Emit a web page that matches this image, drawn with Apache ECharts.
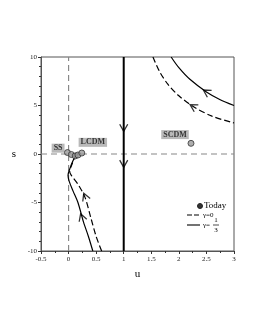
<!DOCTYPE html>
<html><head><meta charset="utf-8">
<script src="https://cdn.jsdelivr.net/npm/echarts@6/dist/echarts.min.js"></script>
<style>html,body{margin:0;padding:0;background:#fff}#c{width:255px;height:330px}</style>
</head><body><div id="c"></div>
<script>
// axes / ticks
const xTicks = [-0.5, 3, 0.5];
const yTicks = [-10, 10, 5];
// reference lines
const vLine0 = [[0, -10], [0, 10]];
const hLine0 = [[-0.5, 0], [3, 0]];
const vLine1 = [[1, -10], [1, 10]];
// trajectories (gamma = 1/3 solid, gamma = 0 dashed)
const solidUpper = [[1.86,10],[2.0,8.9],[2.2,7.7],[2.5,6.4],[2.75,5.6],[3,5.0]];
const dashedUpper = [[1.53,10],[1.65,8.5],[1.8,7.2],[2.0,6.0],[2.26,4.9],[2.6,3.9],[3,3.2]];
const solidLower = [[0.44,-10],[0.36,-8.5],[0.27,-7],[0.17,-5],[0.08,-3.8],[0.01,-2.8],[-0.01,-2.2],[0.03,-1.4],[0.08,-0.7],[0.13,-0.2],[0.18,0.05]];
const dashedLower = [[0.6,-10],[0.5,-8.5],[0.4,-6.5],[0.3,-4.5],[0.18,-3.2],[0.05,-2.2],[0.02,-1.8],[0.06,-1.1],[0.1,-0.5],[0.14,-0.1],[0.22,0.05]];
// arrows: [u, s, rotation]
const arrows = [[1,2.7,180],[1,-1.0,180],[2.5,6.4,58],[2.26,4.9,59],[0.24,-6.5,19],[0.3,-4.4,22]];
// today points
const todayPts = [[-0.02,0.15],[0.05,-0.05],[0.12,-0.2],[0.17,-0.1],[0.24,0.1],[2.22,1.1]];
// model labels
const modelLabels = [['SS',-0.19,0.6],['LCDM',0.44,1.2],['SCDM',1.93,2.0]];

const FONT = 'Liberation Serif';
const chart = echarts.init(document.getElementById('c'), null, {renderer:'canvas'});
const series = [
  {type:'line', data:vLine0, symbol:'none', lineStyle:{color:'#888', width:1.2, type:[6,4]}, z:1, silent:true},
  {type:'line', data:hLine0, symbol:'none', lineStyle:{color:'#888', width:1.2, type:[6,4]}, z:1, silent:true},
  {type:'line', data:vLine1, symbol:'none', lineStyle:{color:'#000', width:2}, z:2, silent:true},
  {type:'line', data:solidUpper, symbol:'none', smooth:0.3, lineStyle:{color:'#000', width:1.2}, z:3, silent:true},
  {type:'line', data:dashedUpper, symbol:'none', smooth:0.3, lineStyle:{color:'#000', width:1.2, type:[6,3]}, z:3, silent:true},
  {type:'line', data:solidLower, symbol:'none', smooth:0.3, lineStyle:{color:'#000', width:1.2}, z:3, silent:true},
  {type:'line', data:dashedLower, symbol:'none', smooth:0.3, lineStyle:{color:'#000', width:1.2, type:[6,3]}, z:3, silent:true},
  {type:'scatter', data:arrows.map(a=>({value:[a[0],a[1]], symbolRotate:a[2]})),
   symbol:'path://M0,9 L5,0 L10,9', symbolSize:[8,8], symbolKeepAspect:true,
   itemStyle:{color:'rgba(0,0,0,0)', borderColor:'#000', borderWidth:1.3}, z:4, silent:true},
  {type:'scatter', data:todayPts, symbol:'circle', symbolSize:6,
   itemStyle:{color:'#9a9a9a', borderColor:'#333', borderWidth:1}, z:6, silent:true},
  {type:'scatter', data:modelLabels.map(m=>({value:[m[1],m[2]], name:m[0]})), symbolSize:0, z:5, silent:true,
   label:{show:true, position:'inside', formatter:p=>p.name, fontFamily:FONT, fontWeight:'bold', fontSize:8,
     color:'#111', backgroundColor:'#a8a8a8', padding:[1,2,0,2]}}
];
chart.setOption({
  animation:false,
  grid:{left:41, right:21, top:57, bottom:79, show:true, borderColor:'#555', borderWidth:1},
  xAxis:{type:'value', min:xTicks[0], max:xTicks[1], interval:xTicks[2],
    name:'u', nameLocation:'middle', nameGap:18, nameTextStyle:{fontFamily:FONT, fontSize:11, color:'#000'},
    axisLine:{show:true, onZero:false, lineStyle:{color:'#555', width:1}},
    axisTick:{show:true, length:3, lineStyle:{color:'#333'}},
    minorTick:{show:true, splitNumber:2, length:2, lineStyle:{color:'#333'}},
    splitLine:{show:false},
    axisLabel:{fontFamily:FONT, fontSize:7, color:'#222', margin:5, formatter:v=>String(v)}},
  yAxis:{type:'value', min:yTicks[0], max:yTicks[1], interval:yTicks[2],
    name:'s', nameLocation:'middle', nameGap:25, nameRotate:0, nameTextStyle:{fontFamily:FONT, fontSize:11, color:'#000'},
    axisLine:{show:true, onZero:false, lineStyle:{color:'#555', width:1}},
    axisTick:{show:true, length:3, lineStyle:{color:'#333'}},
    minorTick:{show:true, splitNumber:5, length:2, lineStyle:{color:'#333'}},
    splitLine:{show:false},
    axisLabel:{fontFamily:FONT, fontSize:7, color:'#222', margin:4}},
  series,
  graphic:[
    {type:'circle', shape:{cx:200, cy:206, r:2.5}, style:{fill:'#333', stroke:'#222'}},
    {type:'text', x:204, y:206, style:{text:'Today', font:'9px "Liberation Serif"', fill:'#000', verticalAlign:'middle'}},
    {type:'line', shape:{x1:187, y1:215, x2:199, y2:215}, style:{stroke:'#000', lineWidth:1.1, lineDash:[5,2]}},
    {type:'text', x:203, y:215, style:{text:'γ=0', font:'7px "Liberation Serif"', fill:'#000', verticalAlign:'middle'}},
    {type:'line', shape:{x1:187, y1:225, x2:200, y2:225}, style:{stroke:'#000', lineWidth:1.1}},
    {type:'text', x:203, y:225, style:{text:'γ=', font:'7px "Liberation Serif"', fill:'#000', verticalAlign:'middle'}},
    {type:'text', x:216, y:220, style:{text:'1', font:'7px "Liberation Serif"', fill:'#000', align:'center', verticalAlign:'middle'}},
    {type:'line', shape:{x1:213, y1:225, x2:219, y2:225}, style:{stroke:'#000', lineWidth:0.7}},
    {type:'text', x:216, y:230, style:{text:'3', font:'7px "Liberation Serif"', fill:'#000', align:'center', verticalAlign:'middle'}}
  ]
});
</script></body></html>
